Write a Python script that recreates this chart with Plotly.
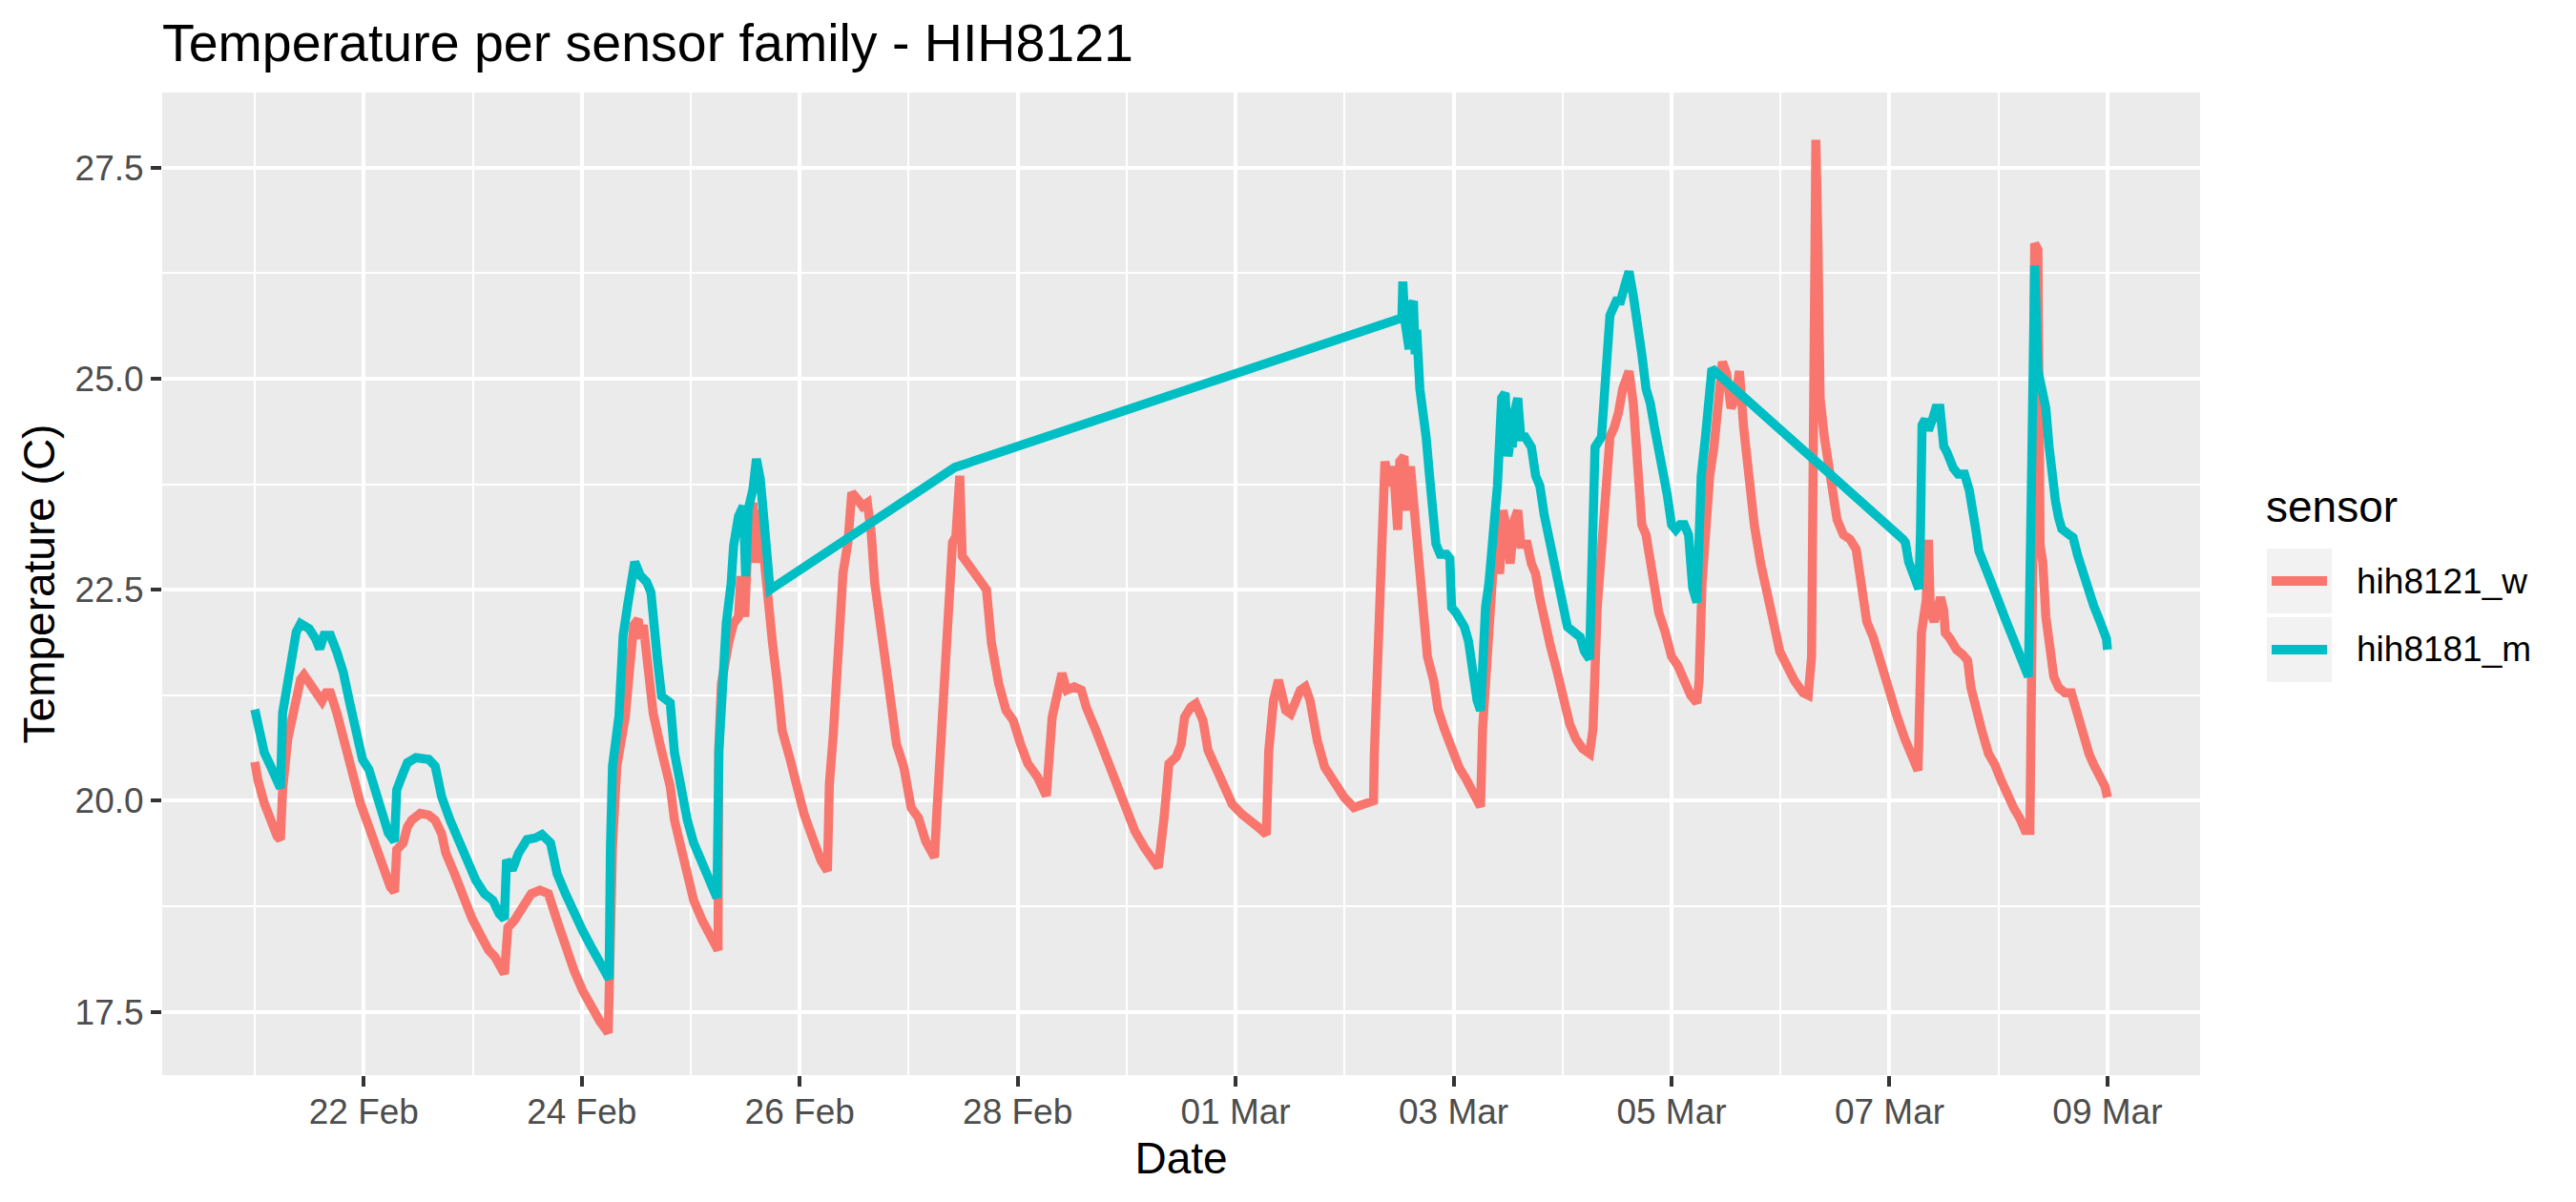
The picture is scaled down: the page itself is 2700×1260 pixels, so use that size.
import plotly.graph_objects as go

# ---------------- data ----------------
w_time = [
"2020-02-21 00:00","2020-02-21 00:40","2020-02-21 02:05","2020-02-21 03:29","2020-02-21 04:54","2020-02-21 05:38","2020-02-21 06:07","2020-02-21 07:15","2020-02-21 08:11","2020-02-21 09:07",
"2020-02-21 10:05","2020-02-21 10:49","2020-02-21 12:26","2020-02-21 13:49","2020-02-21 14:47","2020-02-21 15:43","2020-02-21 16:39","2020-02-21 18:04","2020-02-21 19:00","2020-02-21 20:25",
"2020-02-21 21:50","2020-02-21 23:15","2020-02-22 01:08","2020-02-22 03:00","2020-02-22 04:25","2020-02-22 05:50","2020-02-22 06:46","2020-02-22 07:15","2020-02-22 08:40","2020-02-22 09:36",
"2020-02-22 10:32","2020-02-22 12:26","2020-02-22 14:18","2020-02-22 15:43","2020-02-22 17:08","2020-02-22 18:04","2020-02-22 19:57","2020-02-22 21:50","2020-02-22 23:43","2020-02-23 01:36",
"2020-02-23 03:29","2020-02-23 04:54","2020-02-23 06:19","2020-02-23 06:58","2020-02-23 07:44","2020-02-23 09:07","2020-02-23 11:01","2020-02-23 12:53","2020-02-23 14:47","2020-02-23 16:39",
"2020-02-23 18:33","2020-02-23 20:25","2020-02-23 22:18","2020-02-24 00:12","2020-02-24 02:04","2020-02-24 03:58","2020-02-24 05:50","2020-02-24 06:19","2020-02-24 06:46","2020-02-24 07:44",
"2020-02-24 08:40","2020-02-24 09:36","2020-02-24 10:32","2020-02-24 11:28","2020-02-24 12:26","2020-02-24 12:53","2020-02-24 13:34","2020-02-24 14:47","2020-02-24 15:43","2020-02-24 17:08",
"2020-02-24 18:04","2020-02-24 19:29","2020-02-24 20:25","2020-02-24 21:50","2020-02-24 23:15","2020-02-25 00:39","2020-02-25 02:33","2020-02-25 04:25","2020-02-25 06:01","2020-02-25 06:09",
"2020-02-25 06:45","2020-02-25 08:21","2020-02-25 09:26","2020-02-25 10:31","2020-02-25 11:02","2020-02-25 11:54","2020-02-25 12:39","2020-02-25 13:42","2020-02-25 14:15","2020-02-25 15:06",
"2020-02-25 15:52","2020-02-25 16:55","2020-02-25 18:00","2020-02-25 19:05","2020-02-25 20:08","2020-02-25 21:45","2020-02-25 23:21","2020-02-26 00:58","2020-02-26 03:06","2020-02-26 04:42",
"2020-02-26 06:06","2020-02-26 06:32","2020-02-26 07:24","2020-02-26 08:28","2020-02-26 09:32","2020-02-26 10:37","2020-02-26 11:28","2020-02-26 12:45","2020-02-26 13:49","2020-02-26 14:54",
"2020-02-26 15:45","2020-02-26 16:31","2020-02-26 17:34","2020-02-26 18:39","2020-02-26 20:02","2020-02-26 21:19","2020-02-26 22:55","2020-02-27 00:32","2020-02-27 02:08","2020-02-27 03:45",
"2020-02-27 05:41","2020-02-27 06:13","2020-02-27 06:58","2020-02-27 07:36","2020-02-27 08:34","2020-02-27 09:39","2020-02-27 10:23","2020-02-27 11:15","2020-02-27 11:47","2020-02-27 12:52",
"2020-02-27 14:28","2020-02-27 15:32","2020-02-27 17:08","2020-02-27 18:13","2020-02-27 19:49","2020-02-27 21:26","2020-02-27 23:02","2020-02-28 00:39","2020-02-28 02:15","2020-02-28 04:23",
"2020-02-28 06:19","2020-02-28 07:36","2020-02-28 08:41","2020-02-28 09:45","2020-02-28 10:49","2020-02-28 12:26","2020-02-28 14:02","2020-02-28 15:06","2020-02-28 17:15","2020-02-28 19:23",
"2020-02-28 21:32","2020-02-28 23:41","2020-02-29 01:49","2020-02-29 03:58","2020-02-29 06:06","2020-02-29 06:58","2020-02-29 08:15","2020-02-29 09:19","2020-02-29 10:55","2020-02-29 12:00",
"2020-02-29 12:45","2020-02-29 14:08","2020-02-29 15:13","2020-02-29 16:49","2020-02-29 17:54","2020-02-29 19:31","2020-02-29 21:06","2020-02-29 23:15","2020-03-01 01:23","2020-03-01 03:32",
"2020-03-01 05:08","2020-03-01 06:45","2020-03-01 07:18","2020-03-01 08:21","2020-03-01 09:26","2020-03-01 11:02","2020-03-01 12:06","2020-03-01 14:15","2020-03-01 15:19","2020-03-01 16:23",
"2020-03-01 18:00","2020-03-01 19:36","2020-03-01 21:45","2020-03-01 23:54","2020-03-02 02:02","2020-03-02 04:10","2020-03-02 06:22","2020-03-02 06:33","2020-03-02 07:00","2020-03-02 07:57",
"2020-03-02 08:25","2020-03-02 08:53","2020-03-02 09:49","2020-03-02 10:45","2020-03-02 11:41","2020-03-02 12:09","2020-03-02 13:05","2020-03-02 13:34","2020-03-02 14:30","2020-03-02 15:26",
"2020-03-02 16:22","2020-03-02 17:18","2020-03-02 18:14","2020-03-02 19:38","2020-03-02 20:34","2020-03-02 21:58","2020-03-02 23:22","2020-03-03 01:15","2020-03-03 02:38","2020-03-03 04:03",
"2020-03-03 05:56","2020-03-03 06:23","2020-03-03 07:19","2020-03-03 08:15","2020-03-03 09:11","2020-03-03 10:08","2020-03-03 10:52","2020-03-03 11:31","2020-03-03 12:27","2020-03-03 13:23",
"2020-03-03 14:08","2020-03-03 14:48","2020-03-03 16:12","2020-03-03 17:08","2020-03-03 18:04","2020-03-03 19:00","2020-03-03 19:57","2020-03-03 21:20","2020-03-03 22:45","2020-03-04 00:09",
"2020-03-04 01:34","2020-03-04 02:57","2020-03-04 04:22","2020-03-04 05:57","2020-03-04 06:42","2020-03-04 07:38","2020-03-04 08:34","2020-03-04 09:30","2020-03-04 10:26","2020-03-04 11:22",
"2020-03-04 12:19","2020-03-04 13:15","2020-03-04 14:38","2020-03-04 15:35","2020-03-04 16:31","2020-03-04 17:27","2020-03-04 18:23","2020-03-04 19:19","2020-03-04 20:15","2020-03-04 21:11",
"2020-03-04 22:35","2020-03-05 00:00","2020-03-05 01:23","2020-03-05 02:48","2020-03-05 04:12","2020-03-05 05:35","2020-03-05 06:04","2020-03-05 06:43","2020-03-05 07:28","2020-03-05 08:24",
"2020-03-05 09:20","2020-03-05 10:16","2020-03-05 11:12","2020-03-05 12:09","2020-03-05 13:05","2020-03-05 14:01","2020-03-05 14:57","2020-03-05 15:53","2020-03-05 16:49","2020-03-05 18:13",
"2020-03-05 19:38","2020-03-05 21:01","2020-03-05 22:26","2020-03-05 23:50","2020-03-06 01:13","2020-03-06 03:06","2020-03-06 04:58","2020-03-06 06:06","2020-03-06 06:50","2020-03-06 07:19",
"2020-03-06 07:47","2020-03-06 08:15","2020-03-06 08:43","2020-03-06 09:39","2020-03-06 10:35","2020-03-06 11:31","2020-03-06 12:27","2020-03-06 13:51","2020-03-06 15:16","2020-03-06 16:39",
"2020-03-06 18:04","2020-03-06 19:00","2020-03-06 20:24","2020-03-06 21:49","2020-03-06 23:41","2020-03-07 01:32","2020-03-07 03:24","2020-03-07 05:17","2020-03-07 06:17","2020-03-07 07:02",
"2020-03-07 07:35","2020-03-07 08:05","2020-03-07 08:34","2020-03-07 09:00","2020-03-07 09:50","2020-03-07 10:32","2020-03-07 11:15","2020-03-07 11:57","2020-03-07 12:17","2020-03-07 13:21",
"2020-03-07 14:46","2020-03-07 16:09","2020-03-07 17:12","2020-03-07 17:56","2020-03-07 18:59","2020-03-07 20:23","2020-03-07 21:47","2020-03-07 23:11","2020-03-08 00:36","2020-03-08 01:59",
"2020-03-08 03:24","2020-03-08 04:49","2020-03-08 05:51","2020-03-08 06:55","2020-03-08 07:16","2020-03-08 07:38","2020-03-08 07:58","2020-03-08 08:41","2020-03-08 09:10","2020-03-08 09:45",
"2020-03-08 10:26","2020-03-08 11:08","2020-03-08 12:11","2020-03-08 13:15","2020-03-08 14:40","2020-03-08 16:03","2020-03-08 16:45","2020-03-08 17:48","2020-03-08 18:52","2020-03-08 19:55",
"2020-03-08 20:58","2020-03-08 22:23","2020-03-08 23:27","2020-03-09 00:00",
]
w_temp = [
20.46,20.25,19.97,19.77,19.58,19.54,20.13,20.73,20.96,21.28,
21.44,21.49,21.38,21.26,21.18,21.28,21.28,21.04,20.85,20.49,
20.21,19.97,19.69,19.42,19.14,18.98,18.92,19.42,19.50,19.69,
19.77,19.85,19.83,19.77,19.61,19.38,19.14,18.86,18.62,18.42,
18.23,18.15,17.99,17.95,18.50,18.58,18.74,18.90,18.94,18.90,
18.58,18.27,17.99,17.75,17.55,17.39,17.25,18.50,19.46,20.41,
20.65,21.00,21.56,22.08,22.15,21.92,22.08,21.60,21.04,20.69,
20.49,20.17,19.77,19.46,19.14,18.82,18.58,18.39,18.23,20.60,
21.39,21.87,22.10,22.18,22.66,22.18,23.17,23.53,22.82,23.45,
22.98,22.42,21.87,21.39,20.83,20.52,20.12,19.84,19.52,19.29,
19.17,20.20,20.79,21.79,22.70,23.06,23.65,23.57,23.49,23.53,
23.17,22.58,22.10,21.67,21.19,20.67,20.40,19.92,19.80,19.52,
19.33,19.88,20.60,21.47,22.38,23.06,23.13,23.85,22.90,22.82,
22.74,22.66,22.50,21.87,21.39,21.07,20.95,20.67,20.44,20.28,
20.06,20.99,21.31,21.51,21.31,21.35,21.31,21.11,20.83,20.52,
20.20,19.88,19.64,19.44,19.25,19.21,19.80,20.44,20.52,20.67,
20.99,21.11,21.15,20.95,20.60,20.40,20.16,19.96,19.84,19.76,
19.68,19.60,20.60,21.19,21.43,21.07,21.03,21.31,21.35,21.19,
20.71,20.40,20.20,20.04,19.92,19.96,20.00,20.56,21.25,22.58,
23.73,24.02,23.73,23.96,23.21,24.02,24.08,23.44,23.96,23.44,
22.87,22.17,21.71,21.42,21.08,20.85,20.62,20.39,20.27,20.10,
19.93,20.85,21.71,22.58,23.15,22.69,23.44,23.27,22.81,23.33,
23.44,23.04,23.04,22.81,22.69,22.40,22.12,21.83,21.54,21.19,
20.91,20.73,20.62,20.56,20.85,22.29,22.87,23.44,24.31,24.42,
24.60,24.88,25.09,24.71,23.73,23.27,23.15,22.87,22.46,22.23,
22.00,21.71,21.60,21.42,21.25,21.16,21.42,22.58,23.33,23.85,
24.19,24.60,25.20,25.06,24.65,24.77,25.09,24.42,23.85,23.27,
22.81,22.40,22.12,21.77,21.60,21.42,21.28,21.25,21.71,24.31,
27.83,26.61,24.77,24.31,24.02,23.62,23.33,23.15,23.10,22.98,
22.52,22.12,21.94,21.66,21.31,21.02,20.73,20.44,20.36,21.99,
22.18,22.38,23.09,22.25,22.12,22.31,22.41,22.25,21.99,21.92,
21.79,21.73,21.66,21.34,21.08,20.82,20.56,20.43,20.24,20.04,
19.91,19.78,19.65,19.65,20.69,23.16,26.60,26.53,23.03,22.83,
22.18,21.79,21.47,21.34,21.28,21.28,21.15,20.89,20.69,20.56,
20.43,20.30,20.17,20.04,
]

m_time = [
"2020-02-21 00:00","2020-02-21 00:40","2020-02-21 02:05","2020-02-21 03:29","2020-02-21 04:54","2020-02-21 05:38","2020-02-21 06:07","2020-02-21 07:15","2020-02-21 08:11","2020-02-21 09:07",
"2020-02-21 10:05","2020-02-21 11:57","2020-02-21 13:22","2020-02-21 14:18","2020-02-21 15:14","2020-02-21 16:39","2020-02-21 18:04","2020-02-21 19:29","2020-02-21 20:54","2020-02-21 22:18",
"2020-02-21 23:43","2020-02-22 01:08","2020-02-22 02:33","2020-02-22 03:58","2020-02-22 05:23","2020-02-22 06:46","2020-02-22 07:15","2020-02-22 08:40","2020-02-22 09:36","2020-02-22 11:28",
"2020-02-22 14:18","2020-02-22 15:43","2020-02-22 17:08","2020-02-22 19:00","2020-02-22 20:54","2020-02-22 22:46","2020-02-23 00:39","2020-02-23 02:33","2020-02-23 04:25","2020-02-23 05:50",
"2020-02-23 06:58","2020-02-23 07:26","2020-02-23 08:40","2020-02-23 10:05","2020-02-23 11:57","2020-02-23 13:49","2020-02-23 15:14","2020-02-23 17:08","2020-02-23 18:33","2020-02-23 20:25",
"2020-02-23 22:18","2020-02-24 00:12","2020-02-24 02:04","2020-02-24 03:58","2020-02-24 06:01","2020-02-24 06:19","2020-02-24 06:46","2020-02-24 08:11","2020-02-24 09:07","2020-02-24 10:05",
"2020-02-24 11:01","2020-02-24 11:40","2020-02-24 12:53","2020-02-24 14:18","2020-02-24 15:14","2020-02-24 15:43","2020-02-24 16:39","2020-02-24 17:35","2020-02-24 19:29","2020-02-24 20:25",
"2020-02-24 21:50","2020-02-24 23:15","2020-02-25 00:39","2020-02-25 02:33","2020-02-25 04:25","2020-02-25 05:46","2020-02-25 06:13","2020-02-25 07:18","2020-02-25 07:49","2020-02-25 08:54",
"2020-02-25 09:26","2020-02-25 10:31","2020-02-25 11:34","2020-02-25 12:06","2020-02-25 12:39","2020-02-25 13:42","2020-02-25 14:28","2020-02-25 15:19","2020-02-25 15:52","2020-02-25 16:23",
"2020-02-25 17:28","2020-02-27 10:10","2020-03-02 12:37","2020-03-02 12:49","2020-03-02 13:16","2020-03-02 13:45","2020-03-02 14:12","2020-03-02 14:47","2020-03-02 15:09","2020-03-02 15:32",
"2020-03-02 15:53","2020-03-02 16:34","2020-03-02 17:18","2020-03-02 17:57","2020-03-02 18:42","2020-03-02 19:15","2020-03-02 20:07","2020-03-02 21:03","2020-03-02 22:26","2020-03-02 23:11",
"2020-03-02 23:34","2020-03-03 00:30","2020-03-03 01:26","2020-03-03 02:23","2020-03-03 03:17","2020-03-03 04:13","2020-03-03 05:10","2020-03-03 05:56","2020-03-03 06:23","2020-03-03 07:02",
"2020-03-03 07:47","2020-03-03 08:43","2020-03-03 09:39","2020-03-03 10:35","2020-03-03 11:21","2020-03-03 12:00","2020-03-03 12:27","2020-03-03 12:56","2020-03-03 13:23","2020-03-03 14:08",
"2020-03-03 14:48","2020-03-03 15:45","2020-03-03 17:08","2020-03-03 18:04","2020-03-03 19:00","2020-03-03 19:57","2020-03-03 20:53","2020-03-03 21:49","2020-03-03 22:45","2020-03-03 23:41",
"2020-03-04 01:05","2020-03-04 02:30","2020-03-04 03:53","2020-03-04 04:49","2020-03-04 05:57","2020-03-04 06:13","2020-03-04 06:42","2020-03-04 07:09","2020-03-04 08:34","2020-03-04 09:30",
"2020-03-04 10:26","2020-03-04 11:50","2020-03-04 12:46","2020-03-04 13:42","2020-03-04 14:38","2020-03-04 15:35","2020-03-04 16:31","2020-03-04 17:27","2020-03-04 18:23","2020-03-04 19:19",
"2020-03-04 20:15","2020-03-04 21:11","2020-03-04 22:08","2020-03-04 23:04","2020-03-05 00:00","2020-03-05 00:56","2020-03-05 01:52","2020-03-05 02:48","2020-03-05 03:45","2020-03-05 04:39",
"2020-03-05 05:35","2020-03-05 06:04","2020-03-05 06:32","2020-03-05 07:28","2020-03-05 08:24","2020-03-05 08:53","2020-03-07 02:57","2020-03-07 03:30","2020-03-07 04:13","2020-03-07 04:55",
"2020-03-07 05:37","2020-03-07 06:27","2020-03-07 06:49","2020-03-07 07:10","2020-03-07 07:52","2020-03-07 08:34","2020-03-07 09:29","2020-03-07 10:12","2020-03-07 11:07","2020-03-07 11:35",
"2020-03-07 11:57","2020-03-07 12:39","2020-03-07 13:21","2020-03-07 14:04","2020-03-07 15:07","2020-03-07 16:31","2020-03-07 17:34","2020-03-07 18:16","2020-03-07 18:59","2020-03-07 19:41",
"2020-03-07 20:44","2020-03-07 21:47","2020-03-07 22:51","2020-03-07 23:54","2020-03-08 01:18","2020-03-08 02:43","2020-03-08 04:06","2020-03-08 05:31","2020-03-08 06:35","2020-03-08 07:16",
"2020-03-08 07:38","2020-03-08 07:58","2020-03-08 08:41","2020-03-08 09:10","2020-03-08 09:45","2020-03-08 10:26","2020-03-08 11:08","2020-03-08 11:51","2020-03-08 12:33","2020-03-08 13:15",
"2020-03-08 13:57","2020-03-08 15:22","2020-03-08 16:25","2020-03-08 17:28","2020-03-08 18:32","2020-03-08 19:35","2020-03-08 20:58","2020-03-08 22:23","2020-03-08 23:47","2020-03-09 00:00",
]
m_temp = [
21.08,20.88,20.57,20.41,20.25,20.15,21.04,21.44,21.76,22.00,
22.10,22.04,21.92,21.80,21.96,21.96,21.76,21.52,21.16,20.81,
20.49,20.37,20.09,19.85,19.62,19.52,20.13,20.33,20.45,20.51,
20.49,20.41,20.05,19.77,19.54,19.26,19.06,18.90,18.82,18.66,
18.60,19.30,19.18,19.38,19.54,19.56,19.60,19.50,19.14,18.90,
18.66,18.46,18.27,18.11,17.89,19.46,20.41,21.00,21.96,22.31,
22.59,22.83,22.67,22.59,22.47,22.08,21.68,21.24,21.16,20.57,
20.09,19.77,19.50,19.26,19.06,18.85,20.60,21.79,22.10,22.58,
23.02,23.37,23.49,22.66,23.45,23.69,24.05,23.81,23.37,23.17,
22.50,23.95,25.72,26.15,25.69,25.46,25.35,25.87,25.92,25.29,
25.58,24.88,24.65,24.31,23.85,23.39,23.04,22.92,22.92,22.87,
22.29,22.23,22.15,22.06,21.89,21.42,21.19,21.07,21.71,22.29,
22.58,23.15,23.73,24.77,24.83,24.08,24.25,24.19,24.60,24.77,
24.31,24.31,24.19,23.85,23.73,23.39,23.15,22.81,22.58,22.35,
22.06,22.00,21.94,21.77,21.68,22.29,23.39,24.19,24.31,25.12,
25.75,25.92,25.92,26.10,26.27,25.98,25.69,25.29,24.88,24.71,
24.42,24.19,23.85,23.62,23.27,23.21,23.27,23.27,23.15,22.52,
22.35,23.15,23.85,24.31,25.06,25.12,23.10,23.06,22.83,22.70,
22.57,22.51,23.16,24.45,24.52,24.39,24.52,24.65,24.65,24.45,
24.20,24.13,24.00,23.94,23.87,23.87,23.68,23.35,23.22,22.96,
22.83,22.64,22.51,22.38,22.18,21.99,21.79,21.66,21.47,23.81,
25.10,26.34,25.10,24.97,24.91,24.65,24.20,23.81,23.55,23.35,
23.22,23.16,23.12,22.90,22.70,22.51,22.31,22.12,21.92,21.79,
]

sensors = ["hih8121_w", "hih8181_m"]
colors = ["#F8766D", "#00BFC4"]

x_tick_vals = ["2020-02-22", "2020-02-24", "2020-02-26", "2020-02-28", "2020-03-01",
               "2020-03-03", "2020-03-05", "2020-03-07", "2020-03-09"]
x_tick_text = ["22 Feb", "24 Feb", "26 Feb", "28 Feb", "01 Mar", "03 Mar", "05 Mar", "07 Mar", "09 Mar"]
y_tick_vals = [17.5, 20.0, 22.5, 25.0, 27.5]
y_tick_text = ["17.5", "20.0", "22.5", "25.0", "27.5"]

# ---------------- figure ----------------
FONT = "Liberation Sans, Arial, sans-serif"
OFF = 8                      # default page body margin in the browser
W, H = 2700 - OFF, 1260 - OFF
# panel edges in screen pixels, converted to figure pixels
L, R, T, B = 170 - OFF, 2306 - OFF, 97 - OFF, 1127 - OFF

fig = go.Figure()
for name, xs, ys, col in [(sensors[0], w_time, w_temp, colors[0]),
                          (sensors[1], m_time, m_temp, colors[1])]:
    fig.add_trace(go.Scatter(x=xs, y=ys, mode="lines", name=name,
                             line=dict(color=col, width=9.5), showlegend=False))

fig.update_layout(
    width=W, height=H,
    margin=dict(l=L, r=W - R, t=T, b=H - B, autoexpand=False),
    paper_bgcolor="white", plot_bgcolor="#EBEBEB",
    font=dict(family=FONT, color="black"),
    title=dict(text="Temperature per sensor family - HIH8121",
               font=dict(size=55.5, color="black", family=FONT),
               x=L / W, xanchor="left", xref="container",
               y=1 - (45 - OFF) / H, yanchor="middle", yref="container"),
)
fig.update_xaxes(
    type="date", range=["2020-02-20 03:36", "2020-03-09 20:24"],
    tickvals=x_tick_vals, ticktext=x_tick_text,
    showgrid=True, gridcolor="white", gridwidth=4,
    minor=dict(showgrid=True, gridcolor="white", gridwidth=2,
               dtick=2 * 86400000, tick0="2020-02-21", ticks=""),
    ticks="outside", ticklen=11, tickwidth=3.5, tickcolor="#333333",
    ticklabelstandoff=-5,
    tickfont=dict(size=37, color="#4D4D4D", family=FONT),
    zeroline=False, showline=False, automargin=False,
    title=dict(text="Date", font=dict(size=46, color="black", family=FONT), standoff=12),
)
fig.update_yaxes(
    range=[16.75, 28.39],
    tickvals=y_tick_vals, ticktext=y_tick_text,
    showgrid=True, gridcolor="white", gridwidth=4,
    minor=dict(showgrid=True, gridcolor="white", gridwidth=2,
               dtick=2.5, tick0=18.75, ticks=""),
    ticks="outside", ticklen=11, tickwidth=3.5, tickcolor="#333333",
    tickfont=dict(size=37, color="#4D4D4D", family=FONT),
    zeroline=False, showline=False, automargin=False,
    title=dict(text="Temperature (C)", font=dict(size=46, color="black", family=FONT), standoff=6),
)

# ---------------- manual ggplot-style legend (screen pixel layout) ----------------
def px(xs):
    return (xs - OFF - L) / (R - L)

def py(ys):
    return (B - (ys - OFF)) / (B - T)

fig.add_annotation(text="sensor", x=px(2373), y=py(531), xref="paper", yref="paper",
                   xanchor="left", yanchor="middle", showarrow=False,
                   font=dict(size=46, color="black", family=FONT))
key_tops = [575, 647]
for i, (name, col) in enumerate(zip(sensors, colors)):
    top = key_tops[i]
    fig.add_shape(type="rect", xref="paper", yref="paper",
                  x0=px(2376), x1=px(2444), y0=py(top), y1=py(top + 68),
                  fillcolor="#F2F2F2", line=dict(width=0), layer="below")
    fig.add_shape(type="line", xref="paper", yref="paper",
                  x0=px(2381), x1=px(2439), y0=py(top + 34), y1=py(top + 34),
                  line=dict(color=col, width=10))
    fig.add_annotation(text=name, x=px(2468), y=py(top + 34), xref="paper", yref="paper",
                       xanchor="left", yanchor="middle", showarrow=False,
                       font=dict(size=37, color="black", family=FONT))

fig.write_html("out.html")
